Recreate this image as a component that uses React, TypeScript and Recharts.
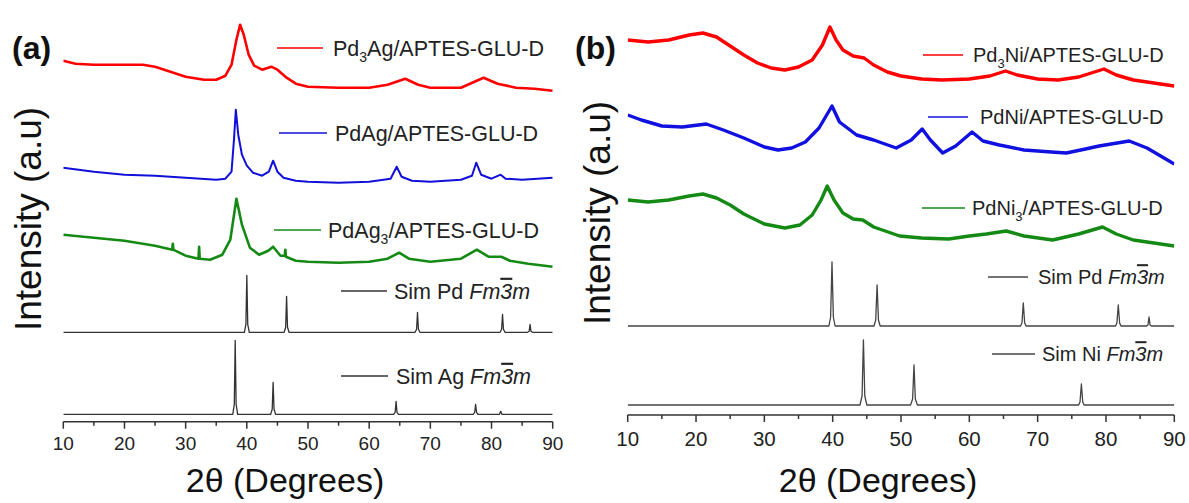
import React from "react";
import { LineChart, Line, XAxis, YAxis } from "recharts";

type Pt = [number, number];

const FONT = '"Liberation Sans", Arial, Helvetica, sans-serif';
const AXIS = "#333";

const MAJOR_TICKS = [10, 20, 30, 40, 50, 60, 70, 80, 90];
const ALL_TICKS = [10, 15, 20, 25, 30, 35, 40, 45, 50, 55, 60, 65, 70, 75, 80, 85, 90];

// ---- panel (a): [2theta, intensity a.u.] ----
const PD3AG: Pt[] = [
  [10, 30], [12, 27], [15, 26], [18, 26], [20, 26], [23, 26], [25, 24], [28, 18], [30, 14],
  [33, 11], [35, 11], [36.5, 15], [37.5, 26], [38.3, 51], [38.9, 66], [39.5, 56], [40.3, 36],
  [41.2, 25], [42.5, 21], [44, 24], [45, 21], [46.5, 13], [48, 7], [50, 4], [55, 3], [60, 3],
  [63, 6], [65.9, 12], [68, 6], [70, 3], [75, 3], [78.7, 13], [81, 7], [84, 3], [87, 2], [90, 0],
];

const PDAG: Pt[] = [
  [10, 15], [15, 11], [20, 8], [25, 7], [30, 5], [35, 3], [36.5, 4], [37.5, 11], [37.9, 43],
  [38.2, 73], [38.6, 48], [39.2, 28], [40, 17], [41, 10], [42.5, 7], [43.6, 11], [44.3, 22],
  [45, 11], [46, 5], [48, 2], [50, 1], [55, 0], [60, 1], [63.5, 4], [64.5, 16], [65.3, 6],
  [67, 2], [70, 1], [75, 3], [76.8, 7], [77.5, 20], [78.3, 8], [80, 4], [81.5, 8], [82.3, 4],
  [85, 3], [90, 5],
];

const PDAG3: Pt[] = [
  [10, 32], [15, 29], [20, 26], [25, 21], [27.8, 17], [27.9, 23], [28.0, 17], [28.3, 16],
  [30, 11], [32.1, 8], [32.2, 20], [32.3, 8], [34, 7], [36, 12], [37.3, 27], [38.3, 68],
  [39.2, 42], [40.5, 19], [42, 12], [43.5, 16], [44.3, 20], [45.5, 11], [46.2, 11], [46.3, 17],
  [46.4, 10], [46.8, 9], [48, 6], [50, 5], [55, 4], [60, 5], [63, 8], [64.9, 14], [66.5, 8],
  [70, 5], [75, 8], [77.6, 17], [79.5, 10], [81.6, 10], [83, 6], [86, 3], [90, 0],
];

const SIM_PD_A: Pt[] = [
  [10, 0], [39.6, 0], [39.85, 8], [40.0, 57], [40.15, 8], [40.4, 0],
  [46.1, 0], [46.35, 5], [46.5, 36], [46.65, 5], [46.9, 0],
  [67.5, 0], [67.75, 3], [67.9, 20], [68.05, 3], [68.3, 0],
  [81.4, 0], [81.65, 3], [81.8, 18], [81.95, 3], [82.2, 0],
  [85.9, 0], [86.15, 1], [86.3, 8], [86.45, 1], [86.7, 0], [90, 0],
];

const SIM_AG_A: Pt[] = [
  [10, 0], [37.7, 0], [37.95, 10], [38.1, 74], [38.25, 10], [38.5, 0],
  [43.9, 0], [44.15, 5], [44.3, 32], [44.45, 5], [44.7, 0],
  [64.0, 0], [64.25, 2], [64.4, 13], [64.55, 2], [64.8, 0],
  [77.0, 0], [77.25, 2], [77.4, 10], [77.55, 2], [77.8, 0],
  [81.3, 0], [81.5, 3], [81.7, 0], [90, 0],
];

// ---- panel (b) ----
const PD3NI: Pt[] = [
  [10, 46], [13, 44], [16, 46], [19, 51], [21, 53], [23, 49], [25, 40], [27, 31], [29, 23],
  [31, 18], [33, 16], [35, 19], [37, 26], [38.5, 41], [39.6, 59], [40.5, 46], [41.5, 36],
  [43, 30], [44.6, 28], [46, 21], [48, 14], [50, 10], [53, 7], [56, 6], [60, 7], [63, 10],
  [65.3, 15], [67, 11], [70, 7], [73, 6], [76, 9], [79.7, 17], [81.5, 11], [84, 6], [87, 3],
  [90, 0],
];

const PDNI: Pt[] = [
  [10, 49], [12, 44], [15, 38], [18, 37], [21.5, 40], [24, 34], [27, 26], [30, 17], [32, 14],
  [34, 16], [36, 22], [38, 36], [39.9, 58], [41, 42], [43.5, 29], [46, 24], [49.3, 16],
  [51.5, 24], [53.1, 35], [54.3, 24], [56.1, 11], [58, 18], [60.4, 32], [62, 23], [64.4, 19],
  [68, 14], [72, 12], [74.2, 11], [77, 15], [79, 18], [83.4, 23], [86, 16], [88, 8], [90, 0],
];

const PDNI3: Pt[] = [
  [10, 46], [13, 44], [16, 46], [19, 50], [21, 52], [23, 48], [25, 41], [27, 32], [30, 22],
  [33, 18], [35.2, 21], [37, 31], [38.3, 46], [39.2, 60], [40.2, 46], [41.5, 33], [43, 27],
  [44.4, 26], [46, 19], [49.8, 10], [53, 8], [57, 7], [60, 10], [62.5, 12], [65.4, 15],
  [68, 10], [72.2, 6], [76, 12], [79.5, 19], [81.5, 12], [84, 6], [87, 3], [90, 0],
];

const SIM_PD_B: Pt[] = [
  [10, 0], [39.45, 0], [39.7, 9], [39.9, 64], [40.1, 9], [40.35, 0],
  [46.05, 0], [46.3, 6], [46.5, 41], [46.7, 6], [46.95, 0],
  [67.5, 0], [67.7, 3], [67.9, 23], [68.1, 3], [68.3, 0],
  [81.4, 0], [81.6, 3], [81.8, 21], [82.0, 3], [82.2, 0],
  [85.95, 0], [86.15, 1], [86.3, 9], [86.45, 1], [86.65, 0], [90, 0],
];

const SIM_NI_B: Pt[] = [
  [10, 0], [44.0, 0], [44.3, 9], [44.5, 65], [44.7, 9], [45.0, 0],
  [51.4, 0], [51.7, 6], [51.9, 40], [52.1, 6], [52.4, 0],
  [76.0, 0], [76.2, 3], [76.4, 21], [76.6, 3], [76.8, 0], [90, 0],
];

type Trace = { name: string; data: Pt[]; offset: number; color: string; width: number };

const TRACES_A: Trace[] = [
  { name: "Pd3Ag", data: PD3AG, offset: 331, color: "#ff0000", width: 2.6 },
  { name: "PdAg", data: PDAG, offset: 239, color: "#1010d8", width: 2 },
  { name: "PdAg3", data: PDAG3, offset: 155, color: "#148a14", width: 2.6 },
  { name: "SimPd", data: SIM_PD_A, offset: 89.4, color: "#333", width: 1.3 },
  { name: "SimAg", data: SIM_AG_A, offset: 7.4, color: "#333", width: 1.3 },
];

const TRACES_B: Trace[] = [
  { name: "Pd3Ni", data: PD3NI, offset: 329, color: "#ff0000", width: 3.4 },
  { name: "PdNi", data: PDNI, offset: 251, color: "#1010e0", width: 3.4 },
  { name: "PdNi3", data: PDNI3, offset: 169, color: "#148a14", width: 3.4 },
  { name: "SimPd", data: SIM_PD_B, offset: 89, color: "#444", width: 1.3 },
  { name: "SimNi", data: SIM_NI_B, offset: 10, color: "#444", width: 1.3 },
];

function makeTick(fontSize: number, gap: number) {
  return (props: any) => {
    const { x, y, payload } = props;
    const v = payload.value;
    const major = MAJOR_TICKS.includes(v);
    return (
      <g>
        <line x1={x} x2={x} y1={y} y2={y + (major ? 7 : 4)} stroke={AXIS} strokeWidth={1.5} />
        {major && (
          <text x={x} y={y + gap + 0.716 * fontSize} textAnchor="middle" fontSize={fontSize} fill="#222" fontFamily={FONT}>
            {v}
          </text>
        )}
      </g>
    );
  };
}

function Panel(props: {
  left: number;
  width: number;
  margin: { top: number; left: number; right: number; bottom: number };
  yMax: number;
  traces: Trace[];
  fontSize: number;
  gap: number;
}) {
  const { left, width, margin, yMax, traces, fontSize, gap } = props;
  return (
    <div style={{ position: "absolute", left, top: 0 }}>
      <LineChart width={width} height={503} margin={margin}>
        <XAxis xAxisId="top" orientation="top" type="number" dataKey="x" domain={[10, 90]} height={0}
          tick={false} tickLine={false} stroke={AXIS} strokeWidth={1.5} allowDataOverflow />
        <XAxis xAxisId="main" type="number" dataKey="x" domain={[10, 90]} ticks={ALL_TICKS} interval={0}
          height={30} tickSize={0} tickMargin={0} tickLine={false} stroke={AXIS} strokeWidth={1.5}
          tick={makeTick(fontSize, gap)} allowDataOverflow />
        <YAxis yAxisId="l" type="number" domain={[0, yMax]} tick={false} tickLine={false} width={0}
          stroke={AXIS} strokeWidth={1.5} allowDataOverflow />
        <YAxis yAxisId="r" orientation="right" type="number" domain={[0, yMax]} tick={false} tickLine={false}
          width={0} stroke={AXIS} strokeWidth={1.5} allowDataOverflow />
        {traces.map((t) => (
          <Line
            key={t.name}
            xAxisId="main"
            yAxisId="l"
            data={t.data.map(([x, v]) => ({ x, y: v + t.offset }))}
            dataKey="y"
            type="linear"
            stroke={t.color}
            strokeWidth={t.width}
            strokeLinejoin="round"
            dot={false}
            activeDot={false}
            isAnimationActive={false}
          />
        ))}
      </LineChart>
    </div>
  );
}

type Part = string | { sub: string } | { it: string } | { bar: string };

const FM3M: Part[] = [{ it: "Fm" }, { bar: "3" }, { it: "m" }];

const LEGENDS: { x1: number; x2: number; y: number; tx: number; fs: number; color: string; parts: Part[] }[] = [
  { x1: 277, x2: 323, y: 48, tx: 333, fs: 21.5, color: "#ff0000", parts: ["Pd", { sub: "3" }, "Ag/APTES-GLU-D"] },
  { x1: 279, x2: 327, y: 133, tx: 335, fs: 21.5, color: "#1010d8", parts: ["PdAg/APTES-GLU-D"] },
  { x1: 274, x2: 321, y: 230, tx: 328, fs: 21.5, color: "#148a14", parts: ["PdAg", { sub: "3" }, "/APTES-GLU-D"] },
  { x1: 341, x2: 387, y: 291, tx: 394, fs: 21.5, color: "#333", parts: ["Sim Pd ", ...FM3M] },
  { x1: 341, x2: 388, y: 376, tx: 396, fs: 21.5, color: "#333", parts: ["Sim Ag ", ...FM3M] },
  { x1: 923, x2: 963, y: 55, tx: 973, fs: 20, color: "#ff0000", parts: ["Pd", { sub: "3" }, "Ni/APTES-GLU-D"] },
  { x1: 928, x2: 968, y: 117, tx: 980, fs: 20, color: "#1010e0", parts: ["PdNi/APTES-GLU-D"] },
  { x1: 922, x2: 965, y: 208, tx: 972, fs: 20, color: "#148a14", parts: ["PdNi", { sub: "3" }, "/APTES-GLU-D"] },
  { x1: 988, x2: 1028, y: 277, tx: 1038, fs: 20, color: "#444", parts: ["Sim Pd ", ...FM3M] },
  { x1: 992, x2: 1035, y: 354, tx: 1042, fs: 20, color: "#444", parts: ["Sim Ni ", ...FM3M] },
];

function LegendText({ x, y, fs, parts }: { x: number; y: number; fs: number; parts: Part[] }) {
  const shift = fs * 0.28;
  let cur = 0;
  return (
    <text x={x} y={y} fontSize={fs} fill="#222" fontFamily={FONT}>
      {parts.map((p, i) => {
        if (typeof p === "string") {
          const dy = -cur;
          cur = 0;
          return <tspan key={i} dy={dy}>{p}</tspan>;
        }
        if ("sub" in p) {
          const dy = shift - cur;
          cur = shift;
          return <tspan key={i} dy={dy} fontSize={fs * 0.65}>{p.sub}</tspan>;
        }
        if ("bar" in p) {
          return <tspan key={i} fontStyle="italic" style={{ textDecoration: "overline" }}>{p.bar}</tspan>;
        }
        return <tspan key={i} fontStyle="italic">{p.it}</tspan>;
      })}
    </text>
  );
}

function Overlay() {
  return (
    <svg width={1189} height={503} style={{ position: "absolute", left: 0, top: 0, pointerEvents: "none" }}>
      <text x={12} y={59} fontSize={32} fontWeight="bold" fill="#111" fontFamily={FONT}>(a)</text>
      <text x={575} y={59} fontSize={32} fontWeight="bold" fill="#111" fontFamily={FONT}>(b)</text>
      <text x={41} y={219} transform="rotate(-90 41 219)" textAnchor="middle" fontSize={37} fill="#111" fontFamily={FONT}>
        Intensity (a.u)
      </text>
      <text x={610} y={213} transform="rotate(-90 610 213)" textAnchor="middle" fontSize={37} fill="#111" fontFamily={FONT}>
        Intensity (a.u)
      </text>
      <text x={285} y={492} textAnchor="middle" fontSize={34} fill="#111" fontFamily={FONT}>2θ (Degrees)</text>
      <text x={878} y={492} textAnchor="middle" fontSize={34} fill="#111" fontFamily={FONT}>2θ (Degrees)</text>
      {LEGENDS.map((l, i) => (
        <g key={i}>
          <line x1={l.x1} x2={l.x2} y1={l.y} y2={l.y} stroke={l.color} strokeWidth={1.3} />
          <LegendText x={l.tx} y={l.y + l.fs * 0.36} fs={l.fs} parts={l.parts} />
        </g>
      ))}
    </svg>
  );
}

export default function App() {
  return (
    <div style={{ position: "absolute", left: 0, top: 0, width: 1189, height: 503, background: "#fff", fontFamily: FONT }}>
      <Panel
        left={0}
        width={600}
        margin={{ top: 14, left: 63.3, right: 47.3, bottom: 51.3 }}
        yMax={407.7}
        traces={TRACES_A}
        fontSize={19}
        gap={15}
      />
      <Panel
        left={600}
        width={589}
        margin={{ top: 14, left: 27.7, right: 14.7, bottom: 58 }}
        yMax={401}
        traces={TRACES_B}
        fontSize={20.5}
        gap={16.7}
      />
      <Overlay />
    </div>
  );
}
